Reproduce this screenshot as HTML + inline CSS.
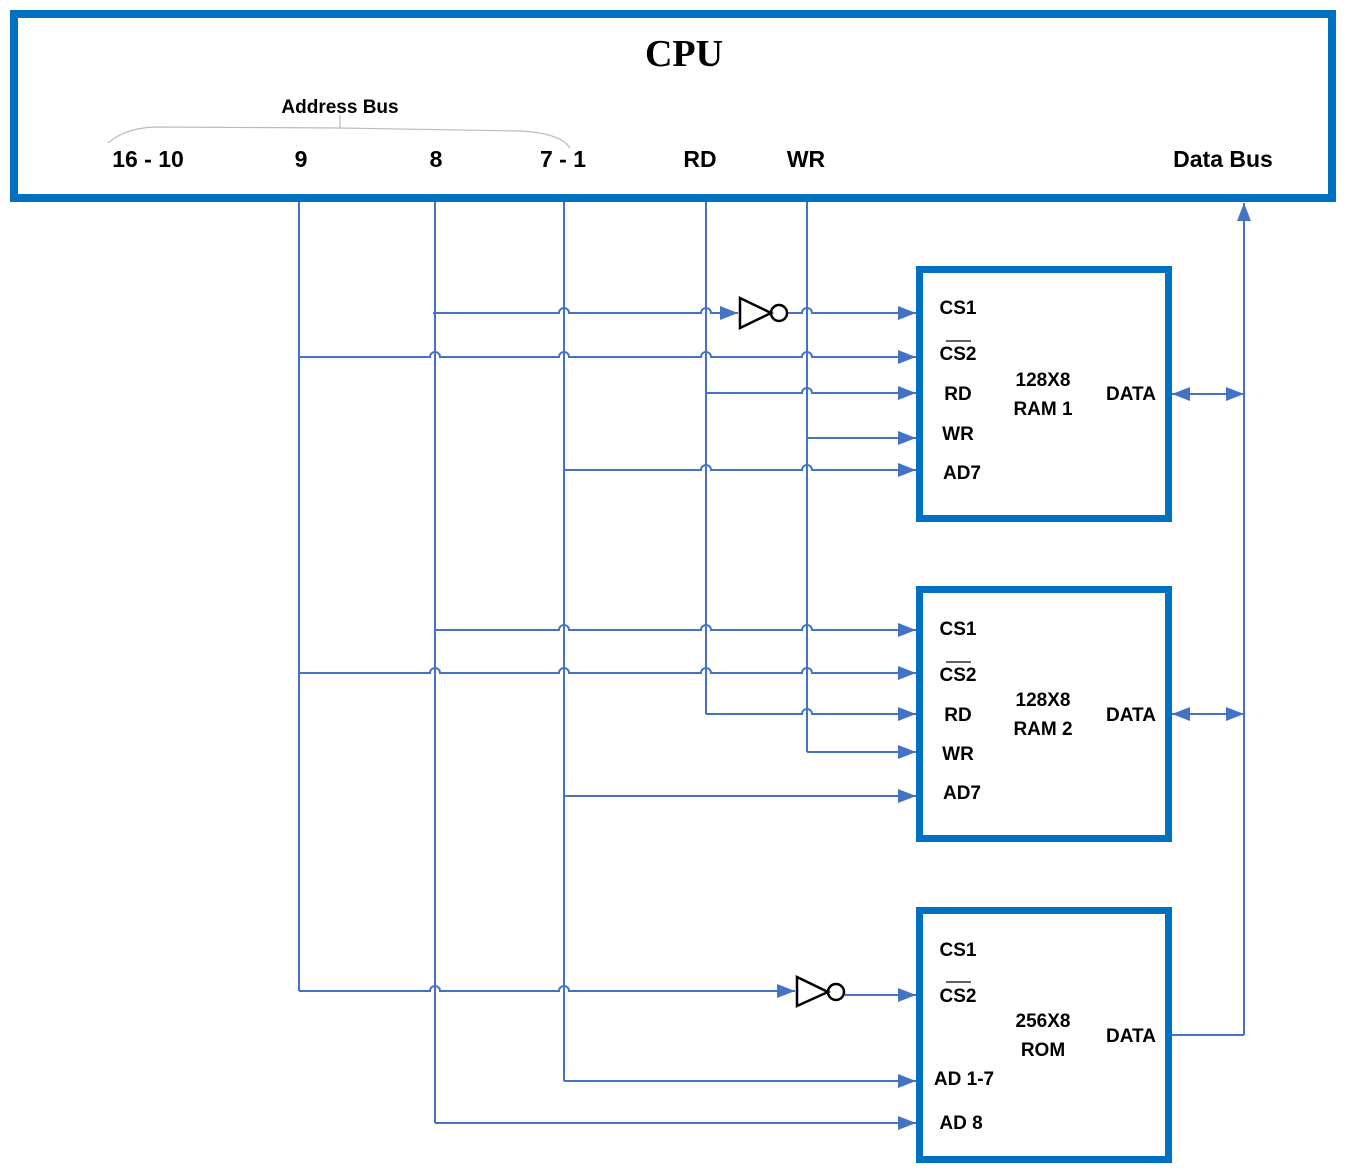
<!DOCTYPE html>
<html><head><meta charset="utf-8"><style>
html,body{margin:0;padding:0;background:#fff;}
svg{display:block;}
.w{fill:none;stroke:#4472C4;stroke-width:2;}
.t{font-family:"Liberation Sans",sans-serif;font-weight:bold;fill:#000;}
</style></head><body>
<svg width="1346" height="1175" viewBox="0 0 1346 1175" xmlns="http://www.w3.org/2000/svg">
<defs>
<marker id="a" viewBox="0 0 18 14" refX="18" refY="7" markerWidth="18" markerHeight="14" markerUnits="userSpaceOnUse" orient="auto-start-reverse">
<path d="M0 0 L18 7 L0 14 Z" fill="#4472C4"/></marker>
</defs>
<!-- CPU box -->
<rect x="14" y="14" width="1318" height="184" fill="none" stroke="#0070C0" stroke-width="8"/>
<text x="684" y="66" text-anchor="middle" style="font-family:'Liberation Serif',serif;font-weight:bold;font-size:38px">CPU</text>
<text x="340" y="113" text-anchor="middle" class="t" style="font-size:19px;font-weight:bold">Address Bus</text>
<path d="M108 143 Q125 128 155 127 L340 128 M340 115 L340 128 L520 131 Q560 133 570 148" fill="none" stroke="#bbb" stroke-width="1.2"/>
<g class="t" style="font-size:23px" text-anchor="middle">
<text x="148" y="167">16 - 10</text>
<text x="301" y="167">9</text>
<text x="436" y="167">8</text>
<text x="563" y="167">7 - 1</text>
<text x="700" y="167">RD</text>
<text x="806" y="167">WR</text>
<text x="1223" y="167">Data Bus</text>
</g>
<!-- memory boxes -->
<rect x="919.5" y="269.5" width="249" height="249" fill="none" stroke="#0070C0" stroke-width="7"/>
<rect x="919.5" y="589.5" width="249" height="249" fill="none" stroke="#0070C0" stroke-width="7"/>
<rect x="919.5" y="910.5" width="249" height="249" fill="none" stroke="#0070C0" stroke-width="7"/>
<!-- verticals -->
<path class="w" d="M299 202 V991 M435 202 V1123 M564 202 V1081 M706 202 V714 M807 202 V752"/>
<path class="w" d="M1244 1035 V203" marker-end="url(#a)"/>
<!-- RAM1 -->
<path class="w" d="M433 313 H559 A5 5 0 0 1 569 313 H701 A5 5 0 0 1 711 313 H738" marker-end="url(#a)"/>
<path class="w" d="M788 313 H802 A5 5 0 0 1 812 313 H916" marker-end="url(#a)"/>
<path class="w" d="M299 357 H430 A5 5 0 0 1 440 357 H559 A5 5 0 0 1 569 357 H701 A5 5 0 0 1 711 357 H802 A5 5 0 0 1 812 357 H916" marker-end="url(#a)"/>
<path class="w" d="M706 393 H802 A5 5 0 0 1 812 393 H916" marker-end="url(#a)"/>
<path class="w" d="M807 438 H916" marker-end="url(#a)"/>
<path class="w" d="M564 470 H701 A5 5 0 0 1 711 470 H802 A5 5 0 0 1 812 470 H916" marker-end="url(#a)"/>
<path class="w" d="M1172 394 H1244" marker-start="url(#a)" marker-end="url(#a)"/>
<!-- RAM2 -->
<path class="w" d="M435 630 H559 A5 5 0 0 1 569 630 H701 A5 5 0 0 1 711 630 H802 A5 5 0 0 1 812 630 H916" marker-end="url(#a)"/>
<path class="w" d="M299 673 H430 A5 5 0 0 1 440 673 H559 A5 5 0 0 1 569 673 H701 A5 5 0 0 1 711 673 H802 A5 5 0 0 1 812 673 H916" marker-end="url(#a)"/>
<path class="w" d="M706 714 H802 A5 5 0 0 1 812 714 H916" marker-end="url(#a)"/>
<path class="w" d="M807 752 H916" marker-end="url(#a)"/>
<path class="w" d="M564 796 H916" marker-end="url(#a)"/>
<path class="w" d="M1172 714 H1244" marker-start="url(#a)" marker-end="url(#a)"/>
<!-- ROM -->
<path class="w" d="M299 991 H430 A5 5 0 0 1 440 991 H559 A5 5 0 0 1 569 991 H795" marker-end="url(#a)"/>
<path class="w" d="M845 995 H916" marker-end="url(#a)"/>
<path class="w" d="M564 1081 H916" marker-end="url(#a)"/>
<path class="w" d="M435 1123 H916" marker-end="url(#a)"/>
<path class="w" d="M1172 1035 H1244"/>
<!-- inverters -->
<g fill="none" stroke="#000" stroke-width="2.5">
<path d="M740 298 L771 313 L740 328 Z"/><circle cx="779" cy="313" r="8"/>
<path d="M797 977 L828 992 L797 1006 Z"/><circle cx="836" cy="992" r="8"/>
</g>
<!-- labels -->
<g class="t" style="font-size:19px" text-anchor="middle">
<text x="958" y="314">CS1</text>
<text x="958" y="360">CS2</text>
<text x="958" y="400">RD</text>
<text x="958" y="440">WR</text>
<text x="962" y="479">AD7</text>
<text x="1043" y="386">128X8</text>
<text x="1043" y="415">RAM 1</text>
<text x="1131" y="400">DATA</text>

<text x="958" y="635">CS1</text>
<text x="958" y="681">CS2</text>
<text x="958" y="721">RD</text>
<text x="958" y="760">WR</text>
<text x="962" y="799">AD7</text>
<text x="1043" y="706">128X8</text>
<text x="1043" y="735">RAM 2</text>
<text x="1131" y="721">DATA</text>

<text x="958" y="956">CS1</text>
<text x="958" y="1002">CS2</text>
<text x="964" y="1085">AD 1-7</text>
<text x="961" y="1129">AD 8</text>
<text x="1043" y="1027">256X8</text>
<text x="1043" y="1056">ROM</text>
<text x="1131" y="1042">DATA</text>
</g>
<path d="M946 341 H971 M946 662 H971 M946 982 H971" stroke="#000" stroke-width="1.2"/>
</svg>
</body></html>
